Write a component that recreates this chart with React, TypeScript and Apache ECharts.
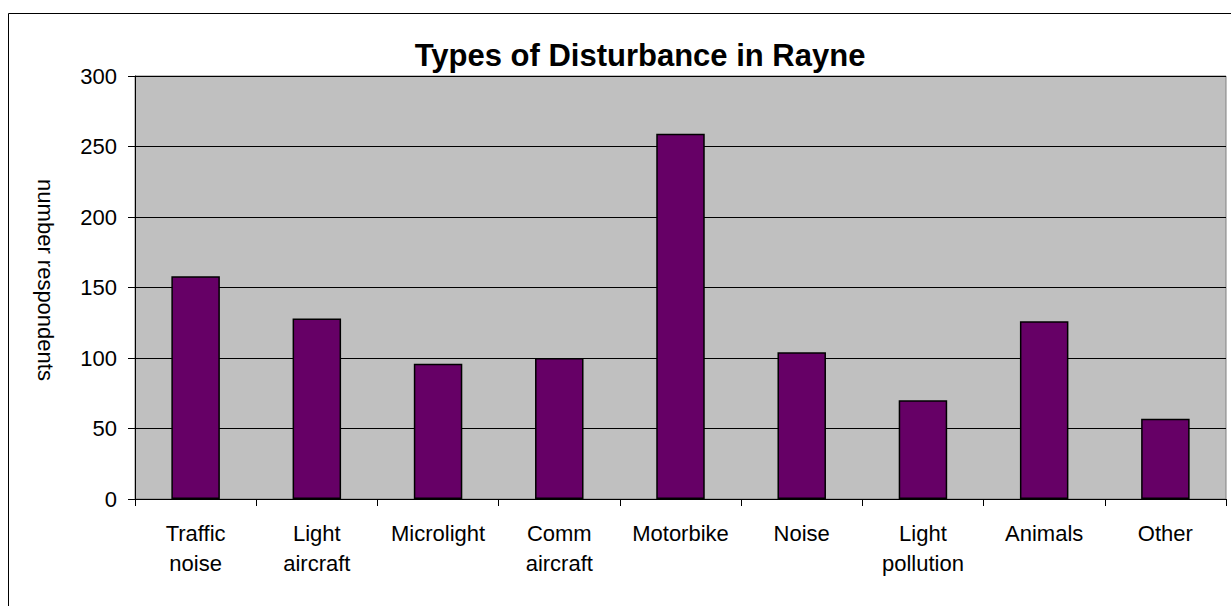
import React, { useEffect, useRef } from "react";
import * as echarts from "echarts";

const categories = [
  "Traffic\nnoise",
  "Light\naircraft",
  "Microlight",
  "Comm\naircraft",
  "Motorbike",
  "Noise",
  "Light\npollution",
  "Animals",
  "Other",
];
const respondents = [158, 128, 96, 100, 259, 104, 70, 126, 57];
const yTicks = { min: 0, max: 300, interval: 50 };
const titleText = "Types of Disturbance in Rayne";
const yAxisTitle = "number respondents";

const FONT = "Liberation Sans, Arial, Helvetica, sans-serif";

export default function App() {
  const ref = useRef<HTMLDivElement>(null);
  useEffect(() => {
    if (!ref.current) return;
    const chart = echarts.init(ref.current, undefined, { renderer: "svg" });
    chart.setOption({
      animation: false,
      backgroundColor: "#ffffff",
      textStyle: { fontFamily: FONT },
      title: {
        text: titleText,
        left: 635,
        top: 35,
        textAlign: "center",
        textStyle: { fontFamily: FONT, fontWeight: "bold", fontSize: 31, color: "#000" },
      },
      graphic: [
        {
          type: "rect",
          shape: { x: 8.5, y: 13.5, width: 1240, height: 640 },
          style: { fill: "none", stroke: "#000", lineWidth: 1 },
          silent: true,
          z: -1,
        },
        {
          type: "text",
          x: 45,
          y: 280,
          rotation: -Math.PI / 2,
          style: {
            text: yAxisTitle,
            fontFamily: FONT,
            fontSize: 22,
            fill: "#000",
            align: "center",
            verticalAlign: "middle",
          },
        },
      ],
      grid: {
        left: 135,
        top: 76,
        right: 5,
        bottom: 107,
        show: true,
        backgroundColor: "#C0C0C0",
        borderColor: "#808080",
        borderWidth: 1,
      },
      xAxis: {
        type: "category",
        data: categories,
        boundaryGap: true,
        axisLine: { show: true, lineStyle: { color: "#000", width: 1 } },
        axisTick: { show: true, length: 7, alignWithLabel: false, lineStyle: { color: "#000" } },
        axisLabel: {
          interval: 0,
          margin: 19,
          fontFamily: FONT,
          fontSize: 22,
          lineHeight: 30,
          color: "#000",
        },
        splitLine: { show: false },
      },
      yAxis: {
        type: "value",
        min: yTicks.min,
        max: yTicks.max,
        interval: yTicks.interval,
        axisLine: { show: true, lineStyle: { color: "#000", width: 1 } },
        axisTick: { show: true, length: 7, lineStyle: { color: "#000" } },
        axisLabel: { margin: 18, fontFamily: FONT, fontSize: 22, color: "#000" },
        splitLine: { show: true, lineStyle: { color: "#000", width: 1 } },
      },
      series: [
        {
          type: "bar",
          data: respondents,
          barWidth: "40%",
          itemStyle: { color: "#660066", borderColor: "#000", borderWidth: 1.5 },
        },
      ],
    });
    return () => chart.dispose();
  }, []);
  return (
    <div
      ref={ref}
      style={{ position: "fixed", left: 0, top: 0, width: 1231, height: 606, background: "#fff" }}
    />
  );
}
